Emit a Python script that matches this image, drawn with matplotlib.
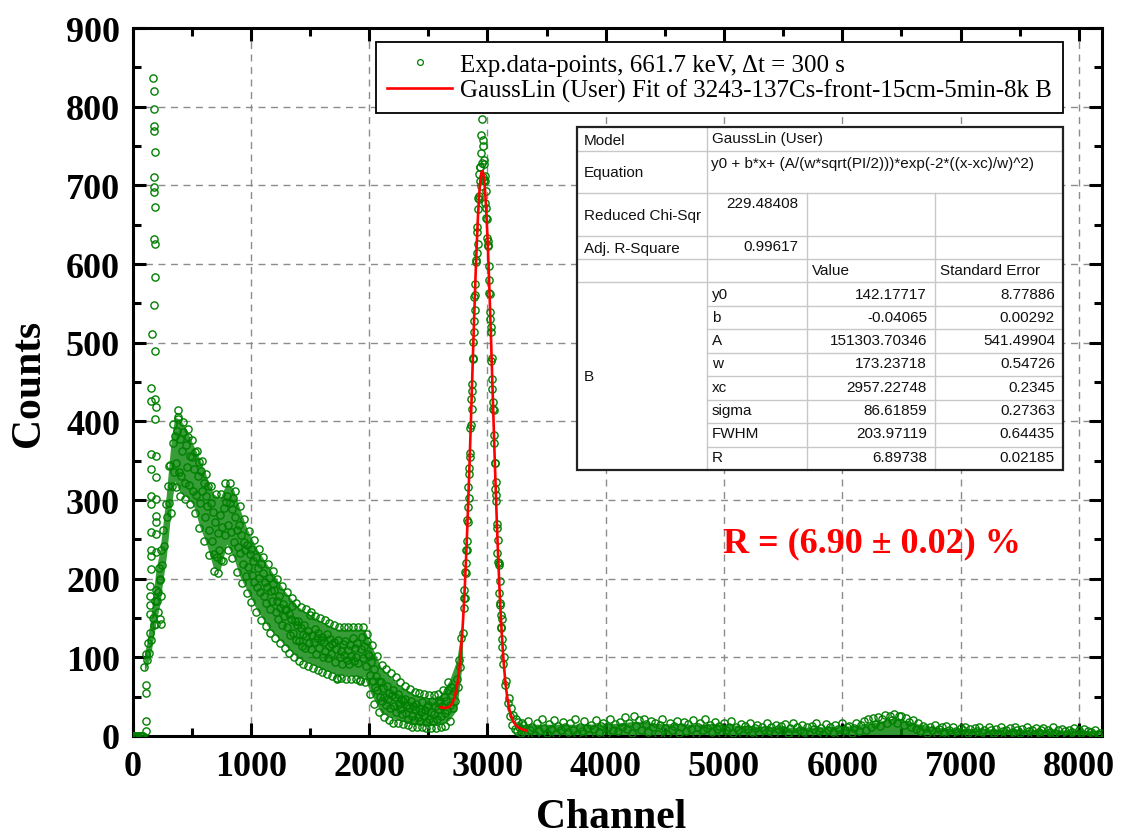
import numpy as np
import matplotlib
matplotlib.use("Agg")
import matplotlib.pyplot as plt  # noqa: E402
from matplotlib.lines import Line2D  # noqa: E402
from matplotlib.ticker import MultipleLocator  # noqa: E402

plt.rcParams["font.family"] = ["Liberation Serif", "DejaVu Serif"]

# ---- spectrum values (channel -> counts) ------------------------------------
lead_ch = [0, 10, 20, 30, 40, 50, 60, 70, 80, 90, 110, 112, 115, 118]
lead_counts = [0, 0, 0, 0, 0, 0, 0, 0, 0, 0, 6, 19, 55, 65]

# low-energy spike column and scattered outliers
spike_ch = [176, 178, 180, 182, 184, 186, 180, 178, 182, 194, 180, 186, 194,
            180, 162, 194, 159, 187, 159, 201, 187, 159, 201, 201, 159, 159,
            201, 159, 201, 201, 159, 201, 159, 159, 201, 159, 145, 145, 145,
            145, 215, 229, 243, 229, 215, 201, 243, 384, 384]
spike_counts = [837, 820, 797, 775, 769, 742, 710, 698, 691, 673, 632, 625,
                584, 548, 511, 489, 443, 428, 426, 418, 403, 358, 356, 329,
                339, 305, 301, 295, 280, 272, 259, 257, 236, 229, 234, 212,
                191, 178, 166, 155, 157, 149, 178, 200, 183, 142, 142, 415,
                403]

# Compton continuum, channels 100..2790 every 10
compton_ch = np.arange(100, 2800, 10)
compton_counts = [
    88, 104, 97, 118, 106, 131, 122, 150, 141, 172,
    186, 172, 214, 198, 236, 218, 262, 241, 295, 279,
    318, 296, 345, 318, 372, 336, 381, 347, 388, 335,
    378, 330, 362, 387, 322, 370, 342, 380, 319, 356,
    355, 312, 340, 361, 306, 330, 348, 296, 337, 312,
    322, 278, 305, 292, 318, 262, 296, 248, 285, 231,
    272, 228, 258, 236, 281, 224, 266, 290, 255, 298,
    305, 268, 296, 259, 288, 302, 247, 279, 262, 240,
    268, 232, 255, 219, 246, 236, 204, 243, 215, 231,
    238, 205, 222, 196, 228, 189, 214, 201, 183, 219,
    207, 178, 196, 169, 190, 201, 162, 184, 172, 193,
    185, 158, 171, 149, 178, 163, 141, 168, 152, 160,
    162, 138, 155, 128, 149, 165, 131, 146, 122, 141,
    146, 121, 137, 115, 130, 141, 112, 127, 134, 118,
    154, 110, 128, 119, 136, 104, 124, 131, 112, 122,
    126, 101, 119, 108, 130, 99, 115, 123, 104, 117,
    119, 94, 111, 73, 122, 100, 108, 91, 117, 103,
    121, 97, 109, 92, 116, 102, 124, 95, 112, 100,
    118, 93, 70, 110, 126, 99, 114, 89, 121, 104,
    102, 78, 94, 70, 85, 62, 76, 58, 70, 49,
    68, 44, 61, 50, 39, 63, 47, 55, 36, 52,
    58, 38, 49, 30, 53, 41, 34, 47, 28, 44,
    47, 29, 40, 22, 36, 45, 26, 38, 20, 34,
    41, 24, 35, 19, 30, 43, 25, 33, 18, 37,
    40, 22, 31, 45, 19, 28, 38, 21, 34, 42,
    44, 26, 38, 50, 29, 45, 33, 58, 39, 62,
    52, 35, 57, 45, 72, 62, 96, 88, 125, 131,
]

# points on the ragged upper / lower edge of the continuum, every 20 from 305
edge_ch = np.arange(305, 2686, 20)
edge_counts = [
    343, 283, 396, 317, 406, 305, 399, 301, 390, 295,
    376, 284, 362, 264, 349, 248, 333, 230, 318, 210,
    308, 207, 307, 222, 321, 237, 321, 226, 312, 209,
    293, 194, 276, 182, 260, 170, 249, 158, 238, 148,
    228, 140, 219, 131, 210, 125, 199, 118, 191, 112,
    183, 106, 175, 100, 169, 95, 164, 92, 161, 89,
    157, 87, 153, 84, 150, 81, 147, 79, 144, 76,
    141, 74, 139, 74, 139, 73, 139, 73, 139, 72,
    139, 71, 139, 68, 130, 53, 116, 41, 102, 30,
    90, 24, 85, 20, 80, 16, 75, 17, 68, 15,
    64, 14, 60, 12, 56, 11, 55, 11, 53, 10,
    52, 10, 52, 10, 54, 11, 59, 13, 69, 19,
]

# extent of the densely overlapping markers (band edges)
band_ch = [100, 120, 150, 200, 230, 250, 286, 329, 357, 400, 456, 513, 569,
           626, 683, 739, 796, 853, 909, 966, 1051, 1164, 1278, 1391, 1504,
           1618, 1731, 1844, 1958, 2011, 2099, 2241, 2382, 2524, 2600, 2677,
           2740, 2790]
band_low = [82, 88, 100, 146, 166, 190, 228, 292, 324, 310, 304, 294, 266,
            244, 214, 210, 244, 228, 202, 186, 160, 135, 117, 100, 92, 84, 78,
            77, 75, 55, 30, 20, 14, 13, 14, 20, 33, 95]
band_high = [104, 118, 146, 214, 234, 260, 308, 380, 405, 403, 390, 370, 352,
             330, 308, 302, 322, 314, 288, 264, 238, 212, 186, 165, 154, 144,
             136, 136, 136, 118, 88, 66, 53, 48, 52, 70, 96, 146]

# 661.7 keV photopeak, channels 2800..3130 every 3
peak_ch = np.arange(2800, 3131, 3)
peak_counts = [
    175, 163, 185, 175, 208, 207, 237, 220, 248, 236,
    275, 272, 291, 317, 303, 341, 333, 360, 355, 392,
    395, 429, 416, 447, 438, 480, 479, 501, 527, 514,
    558, 541, 574, 560, 605, 602, 641, 614, 647, 625,
    684, 670, 687, 714, 683, 723, 706, 723, 699, 764,
    741, 785, 728, 758, 711, 750, 727, 707, 732, 705,
    712, 678, 693, 658, 671, 633, 657, 624, 623, 629,
    580, 597, 563, 562, 530, 539, 514, 520, 477, 480,
    441, 454, 424, 416, 414, 373, 383, 347, 347, 314,
    323, 299, 306, 264, 269, 233, 249, 221, 218, 220,
    182, 197, 166, 169, 139, 154, 137, 149, 113, 123,
    92,
]

shoulder_ch = np.arange(3140, 3300, 10)
shoulder_counts = [101, 65, 70, 42, 48, 26, 35, 14, 27, 9, 21, 6, 18, 11, 4,
                   16]

# flat tail, channels 3300..8180 every 20
tail_ch = np.arange(3300, 8181, 20)
tail_counts = [
    14, 3, 19, 8, 12, 1, 17, 6, 21, 10,
    4, 15, 9, 20, 2, 13, 7, 18, 11, 5,
    16, 8, 22, 3, 12, 6, 19, 10, 1, 14,
    9, 20, 5, 13, 17, 2, 11, 21, 7, 15,
    6, 18, 12, 24, 9, 16, 4, 25, 13, 20,
    8, 22, 15, 5, 19, 11, 17, 3, 14, 21,
    10, 2, 16, 7, 13, 19, 4, 12, 18, 6,
    15, 9, 20, 3, 11, 17, 7, 21, 10, 14,
    5, 18, 9, 13, 2, 16, 8, 12, 19, 4,
    11, 7, 15, 1, 13, 9, 17, 5, 10, 14,
    3, 12, 8, 16, 6, 11, 2, 14, 9, 13,
    7, 15, 4, 10, 17, 1, 12, 8, 14, 5,
    11, 3, 13, 9, 16, 6, 10, 2, 15, 8,
    12, 5, 14, 9, 3, 16, 7, 11, 13, 4,
    10, 17, 6, 14, 19, 8, 21, 12, 23, 15,
    24, 13, 22, 27, 17, 26, 20, 28, 16, 25,
    26, 14, 23, 18, 11, 20, 9, 16, 6, 13,
    10, 4, 12, 7, 14, 2, 9, 11, 5, 13,
    8, 3, 11, 6, 1, 10, 7, 12, 4, 9,
    2, 10, 6, 12, 5, 8, 1, 11, 7, 4,
    9, 3, 11, 6, 8, 2, 10, 5, 12, 7,
    4, 9, 1, 11, 6, 8, 3, 10, 5, 7,
    10, 2, 8, 5, 11, 4, 7, 1, 9, 6,
    3, 8, 5, 10, 2, 7, 4, 9, 1, 6,
    5, 2, 7, 3, 4,
]
tail_band_ch = [3250, 3400, 3800, 4100, 4250, 4400, 4800, 4900, 5200, 5600,
                6000, 6200, 6350, 6450, 6550, 6700, 6900, 7300, 7800, 8192]
tail_band_high = [15, 15, 15, 16, 19, 16, 15, 16, 13, 11, 12, 15, 20, 23, 19,
                  13, 10, 9, 8, 7]

# GaussLin fit curve as drawn (red), channels 2600..3330 every 10
fit_ch = np.arange(2600, 3331, 10)
fit_counts = [
    36.6, 36.3, 36.1, 35.9, 35.7, 35.8, 36.0, 36.5, 37.4, 38.8,
    41, 44, 48, 54, 61, 70, 82, 97, 116, 137,
    163, 193, 227, 265, 307, 351, 398, 446, 495, 541,
    586, 625, 660, 687, 706, 717, 718, 711, 694, 669,
    636, 598, 554, 508, 459, 410, 361, 315, 271, 231,
    195, 162, 134, 110, 89, 72, 58, 47, 38, 31,
    26, 21.5, 18.2, 15.8, 13.9, 12.4, 11.2, 10.3, 9.5, 8.8,
    8.3, 7.8, 7.3, 6.8,
]

# fit report table
param_names = ["y0", "b", "A", "w", "xc", "sigma", "FWHM", "R"]
param_values = ["142.17717", "-0.04065", "151303.70346", "173.23718",
                "2957.22748", "86.61859", "203.97119", "6.89738"]
param_errors = ["8.77886", "0.00292", "541.49904", "0.54726", "0.2345",
                "0.27363", "0.64435", "0.02185"]
model_name = "GaussLin (User)"
equation = "y0 + b*x+ (A/(w*sqrt(PI/2)))*exp(-2*((x-xc)/w)^2)"
red_chi = "229.48408"
adj_r2 = "0.99617"

GREEN = "#008000"

fig = plt.figure(figsize=(11.26, 8.37), dpi=100)
ax = fig.add_axes([0.1177, 0.1195, 0.8606, 0.8458])

ax.fill_between(band_ch, band_low, band_high, color=GREEN, alpha=0.78,
                lw=0, zorder=2)
ax.fill_between(tail_band_ch, 0, tail_band_high, color=GREEN, alpha=0.8,
                lw=0, zorder=2)
mk = dict(ls="none", marker="o", ms=5.2, mfc="none", mec=GREEN, mew=1.0)
for xs, ys in [(lead_ch, lead_counts), (compton_ch, compton_counts),
               (edge_ch, edge_counts), (spike_ch, spike_counts),
               (peak_ch, peak_counts), (shoulder_ch, shoulder_counts),
               (tail_ch, tail_counts)]:
    ax.plot(xs, ys, zorder=3, **mk)
ax.plot(fit_ch, fit_counts, color="#ff0000", lw=1.9, zorder=4)

ax.set_xlim(0, 8192)
ax.set_ylim(0, 900)
ax.set_xticks(range(0, 8001, 1000))
ax.set_yticks(range(0, 901, 100))
ax.xaxis.set_minor_locator(MultipleLocator(500))
ax.yaxis.set_minor_locator(MultipleLocator(50))
ax.tick_params(which="both", direction="in", top=True, right=True,
               width=2.2, labelsize=26)
ax.tick_params(which="major", length=9.5)
ax.tick_params(which="minor", length=5.5)
ax.tick_params(axis="y", pad=9)
ax.tick_params(axis="x", pad=10)
for lab in ax.get_xticklabels() + ax.get_yticklabels():
    lab.set_fontweight("bold")
for sp in ax.spines.values():
    sp.set_linewidth(2.2)
ax.set_axisbelow(True)
ax.grid(True, which="major", color="#8c8c8c", lw=1.0, ls=(0, (5, 4)))

ax.set_xlabel("Channel", fontsize=30, fontweight="bold")
ax.set_ylabel("Counts", fontsize=30, fontweight="bold")
ax.xaxis.set_label_coords(0.494, -0.088)
ax.yaxis.set_label_coords(-0.087, 0.5)

handles = [Line2D([], [], ls="none", marker="o", ms=4.2, mfc="none",
                  mec=GREEN, mew=0.9),
           Line2D([], [], color="#ff0000", lw=1.9)]
labels = ["Exp.data-points, 661.7 keV, \u0394t = 300 s",
          "GaussLin (User) Fit of 3243-137Cs-front-15cm-5min-8k B"]
leg = ax.legend(handles, labels, loc="upper left",
                bbox_to_anchor=(376 / 1126, 1 - 43 / 837),
                bbox_transform=fig.transFigure, borderaxespad=0,
                fontsize=18, numpoints=1, handlelength=2.6,
                handletextpad=0.3, labelspacing=0.12, borderpad=0.45,
                fancybox=False, framealpha=1, edgecolor="black")
leg.get_frame().set_linewidth(1.3)

ax.text(6250, 246, "R = (6.90 \u00b1 0.02) %", color="#ff0000",
        fontsize=26, fontweight="bold", ha="center", va="center")

# ---- fit report table, drawn in figure pixel space -------------------------
tab = fig.add_axes([0, 0, 1, 1])
tab.set_xlim(0, 1126)
tab.set_ylim(837, 0)
tab.axis("off")
L, C1, C2, C3, R = 577, 707, 807, 935, 1063
T, B = 128, 471
row_lines = [152, 194, 237, 260, 283]
param_lines = [307, 330, 354, 377, 401, 424, 448]
tab.add_patch(plt.Rectangle((L, T), R - L, B - T, facecolor="white",
                            edgecolor="none", zorder=1))
gc = dict(color="#c8c8c8", lw=1.0, zorder=2)
for yl in row_lines:
    tab.plot([L, R], [yl, yl], **gc)
for yl in param_lines:
    tab.plot([C1, R], [yl, yl], **gc)
tab.plot([C1, C1], [T, B], **gc)
tab.plot([C2, C2], [194, B], **gc)
tab.plot([C3, C3], [194, B], **gc)
tab.add_patch(plt.Rectangle((L, T), R - L, B - T, facecolor="none",
                            edgecolor="#222222", lw=1.6, zorder=3))

tf = dict(family=["Liberation Sans", "DejaVu Sans"], fontsize=11,
          color="#111111", va="center", zorder=4)
tab.text(584, 141, "Model", **tf)
tab.text(712, 139, model_name, **tf)
tab.text(584, 173, "Equation", **tf)
tab.text(711, 164, equation, **tf)
tab.text(584, 216, "Reduced Chi-Sqr", **tf)
tab.text(798, 204, red_chi, ha="right", **tf)
tab.text(584, 249, "Adj. R-Square", **tf)
tab.text(798, 247, adj_r2, ha="right", **tf)
tab.text(812, 271, "Value", **tf)
tab.text(940, 271, "Standard Error", **tf)
tab.text(584, 377, "B", **tf)
row_y = 294.5
for name, val, err in zip(param_names, param_values, param_errors):
    tab.text(712, row_y, name, **tf)
    tab.text(927, row_y, val, ha="right", **tf)
    tab.text(1055, row_y, err, ha="right", **tf)
    row_y += 23.3

fig.savefig("out.png", dpi=100)
